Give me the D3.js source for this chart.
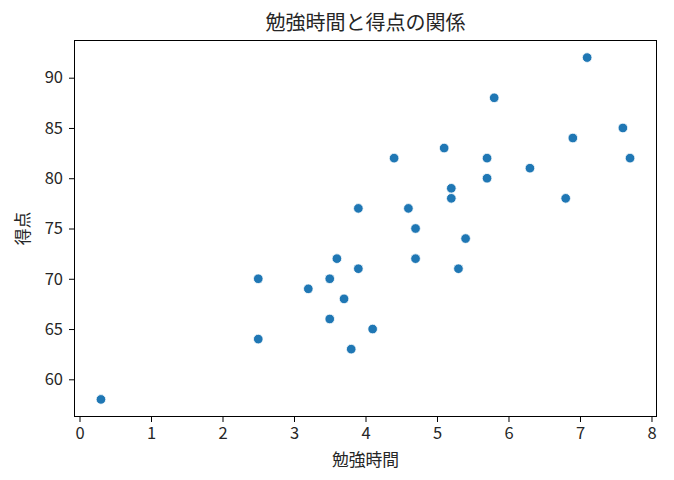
<!DOCTYPE html>
<html>
<head>
  <meta charset="utf-8" />
  <title>勉強時間と得点の関係</title>
  <script src="https://cdn.jsdelivr.net/npm/d3@7"></script>
  <style>
    body { margin: 0; background: white; }
    svg { font-family: "Noto Sans CJK JP", "DejaVu Sans", sans-serif; }
    .axis line { stroke: #000; stroke-width: 1; }
  </style>
</head>
<body>
  <svg id="chart" width="674" height="480"></svg>
  <script>
    // 勉強時間 (hours) and 得点 (score)
    var hours  = [0.3, 2.5, 2.5, 3.2, 3.5, 3.5, 3.6, 3.7, 3.8, 3.9, 3.9, 4.1, 4.4, 4.6, 4.7,
                  4.7, 5.1, 5.2, 5.2, 5.3, 5.4, 5.7, 5.7, 5.8, 6.3, 6.8, 6.9, 7.1, 7.6, 7.7];
    var scores = [58, 70, 64, 69, 70, 66, 72, 68, 63, 77, 71, 65, 82, 77, 75,
                  72, 83, 79, 78, 71, 74, 82, 80, 88, 81, 78, 84, 92, 85, 82];
    var xTicks = [0, 1, 2, 3, 4, 5, 6, 7, 8];
    var yTicks = [60, 65, 70, 75, 80, 85, 90];

    var svg = d3.select('#chart');
    var plot = { left: 74.5, right: 656.5, top: 40.5, bottom: 416.5 };
    var font = '"Noto Sans CJK JP", "DejaVu Sans", sans-serif';

    // matplotlib style 5% padding around the data
    function padded(vals) {
      var ext = d3.extent(vals), m = (ext[1] - ext[0]) * 0.05;
      return [ext[0] - m, ext[1] + m];
    }

    var x = d3.scaleLinear().domain(padded(hours)).range([plot.left, plot.right]);
    var y = d3.scaleLinear().domain(padded(scores)).range([plot.bottom, plot.top]);

    function styleAxis(g) {
      g.select('.domain').remove();
      g.attr('font-family', font).attr('font-size', 16.5);
      g.selectAll('text').attr('fill', '#262626');
    }

    svg.append('g')
      .attr('class', 'axis')
      .attr('transform', 'translate(0,' + plot.bottom + ')')
      .call(d3.axisBottom(x).tickValues(xTicks).tickSize(5.5).tickPadding(5).tickSizeOuter(0))
      .call(styleAxis);

    svg.append('g')
      .attr('class', 'axis')
      .attr('transform', 'translate(' + plot.left + ',0)')
      .call(d3.axisLeft(y).tickValues(yTicks).tickSize(5.5).tickPadding(6).tickSizeOuter(0))
      .call(styleAxis);

    // frame
    svg.append('rect')
      .attr('x', plot.left).attr('y', plot.top)
      .attr('width', plot.right - plot.left).attr('height', plot.bottom - plot.top)
      .attr('fill', 'none').attr('stroke', '#000').attr('stroke-width', 1);

    svg.append('g')
      .selectAll('circle')
      .data(hours)
      .join('circle')
      .attr('cx', function (d) { return x(d); })
      .attr('cy', function (d, i) { return y(scores[i]); })
      .attr('r', 4.8)
      .attr('fill', '#1f77b4')
      .attr('stroke', 'white')
      .attr('stroke-width', 0.8);

    svg.append('text')
      .attr('x', (plot.left + plot.right) / 2).attr('y', 29.5)
      .attr('text-anchor', 'middle')
      .style('font-size', '20px').style('fill', '#262626')
      .text('勉強時間と得点の関係');

    svg.append('text')
      .attr('x', (plot.left + plot.right) / 2).attr('y', 466)
      .attr('text-anchor', 'middle')
      .style('font-size', '16.8px').style('fill', '#262626')
      .text('勉強時間');

    svg.append('text')
      .attr('transform', 'translate(29,' + ((plot.top + plot.bottom) / 2) + ') rotate(-90)')
      .attr('text-anchor', 'middle')
      .style('font-size', '16.8px').style('fill', '#262626')
      .text('得点');
  </script>
</body>
</html>
